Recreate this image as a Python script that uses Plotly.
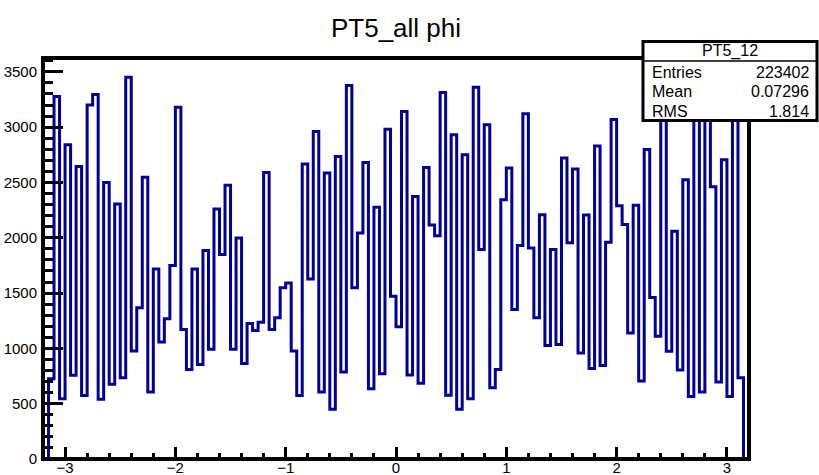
import numpy as np
import plotly.graph_objects as go

# Histogram "PT5_12": 126 bins of phi from -3.15 to 3.15
phi_min, phi_max, n_bins = -3.15, 3.15, 126
counts = [
    725, 3277, 545, 2840, 756, 2645, 575, 3201, 3295, 540,
    2500, 675, 2305, 735, 3450, 976, 1367, 2546, 605, 1718,
    1057, 1267, 1749, 3180, 1171, 810, 1718, 855, 1884, 991,
    2260, 1848, 2474, 991, 1998, 864, 1225, 1162, 1237, 2591,
    1171, 1276, 1547, 1592, 976, 575, 2666, 1628, 2961, 605,
    2585, 449, 2735, 786, 3376, 1547, 2043, 2681, 636, 2275,
    771, 2982, 1472, 1195, 3141, 760, 2374, 685, 2636, 2115,
    2019, 3313, 576, 2931, 449, 2750, 545, 3361, 1893, 3021,
    645, 810, 2344, 2630, 1352, 1929, 3120, 1908, 1276, 2209,
    1025, 1893, 1036, 2720, 1955, 2622, 958, 2205, 817, 2830,
    845, 1959, 3068, 2290, 2120, 1140, 2295, 705, 2798, 1460,
    1110, 3300, 975, 2058, 805, 2525, 566, 3150, 605, 3200,
    2460, 695, 2706, 566, 3280, 734,
]

title_text = "PT5_all phi"
stats_name = "PT5_12"
stats_labels = ["Entries", "Mean", "RMS"]
stats_values = ["223402", "0.07296", "1.814"]

x_range = [-3.2, 3.2]
y_max = 3625

# Step outline: rise from zero at the first edge, drop to zero at the last edge
edges = np.linspace(phi_min, phi_max, n_bins + 1)
step_x = np.concatenate([[edges[0]], edges[:-1], [edges[-1], edges[-1]]])
step_y = np.concatenate([[0], counts, [counts[-1], 0]])

FONT = "Liberation Sans, Arial, Helvetica, sans-serif"
W, H = 819, 475
L, R, T, B = 43, 70, 58, 16
plot_w, plot_h = W - L - R, H - T - B


def px_to_paper(px, py):
    return (px - L) / plot_w, (H - B - py) / plot_h


fig = go.Figure()
fig.add_trace(go.Scatter(
    x=step_x, y=step_y, mode="lines",
    line=dict(color="#000099", width=3, shape="hv"),
    hoverinfo="skip", showlegend=False,
))

axis_common = dict(
    showgrid=False, zeroline=False, showline=False,
    ticks="inside", tickcolor="black", tickwidth=3,
    tickfont=dict(family=FONT, size=15, color="black"),
    automargin=False,
)
fig.update_xaxes(
    range=x_range, dtick=1, tick0=0, ticklen=12,
    minor=dict(dtick=0.2, tick0=0, ticks="inside", ticklen=6, tickwidth=3, tickcolor="black"),
    ticklabelstandoff=-2,
    **axis_common,
)
fig.update_yaxes(
    range=[0, y_max], dtick=500, tick0=0, ticklen=20,
    minor=dict(dtick=100, tick0=0, ticks="inside", ticklen=10, tickwidth=3, tickcolor="black"),
    ticklabelstandoff=5,
    **axis_common,
)

shapes = [
    # frame
    dict(type="rect", xref="paper", yref="paper", x0=0, x1=1, y0=0, y1=1,
         line=dict(color="black", width=4), layer="above"),
]

# statistics box
bx0, by0 = px_to_paper(643, 41.5)
bx1, by1 = px_to_paper(817, 120.5)
_, div_y = px_to_paper(0, 61)
shapes.append(dict(type="rect", xref="paper", yref="paper", x0=bx0, x1=bx1, y0=by1, y1=by0,
                   line=dict(color="black", width=3), fillcolor="white", layer="above"))
shapes.append(dict(type="line", xref="paper", yref="paper", x0=bx0, x1=bx1, y0=div_y, y1=div_y,
                   line=dict(color="black", width=1.5), layer="above"))

annotations = []
hx, hy = px_to_paper(730, 51)
annotations.append(dict(text=stats_name, xref="paper", yref="paper", x=hx, y=hy,
                        xanchor="center", yanchor="middle", showarrow=False,
                        font=dict(family=FONT, size=16, color="black")))
row_y = [72, 91.5, 111]
for lab, val, ry in zip(stats_labels, stats_values, row_y):
    lx, ly = px_to_paper(650, ry)
    rx, _ = px_to_paper(811, ry)
    annotations.append(dict(text=lab, xref="paper", yref="paper", x=lx, y=ly,
                            xanchor="left", yanchor="middle", showarrow=False,
                            font=dict(family=FONT, size=16, color="black")))
    annotations.append(dict(text=val, xref="paper", yref="paper", x=rx, y=ly,
                            xanchor="right", yanchor="middle", showarrow=False,
                            font=dict(family=FONT, size=16, color="black")))

fig.update_layout(
    width=W, height=H,
    margin=dict(l=L, r=R, t=T, b=B, pad=0),
    paper_bgcolor="white", plot_bgcolor="white",
    title=dict(text=title_text, x=0.5, xref="paper", xanchor="center",
               y=1 - 28 / H, yref="container", yanchor="middle",
               font=dict(family=FONT, size=26, color="black")),
    shapes=shapes, annotations=annotations,
)

fig.write_html("out.html")
